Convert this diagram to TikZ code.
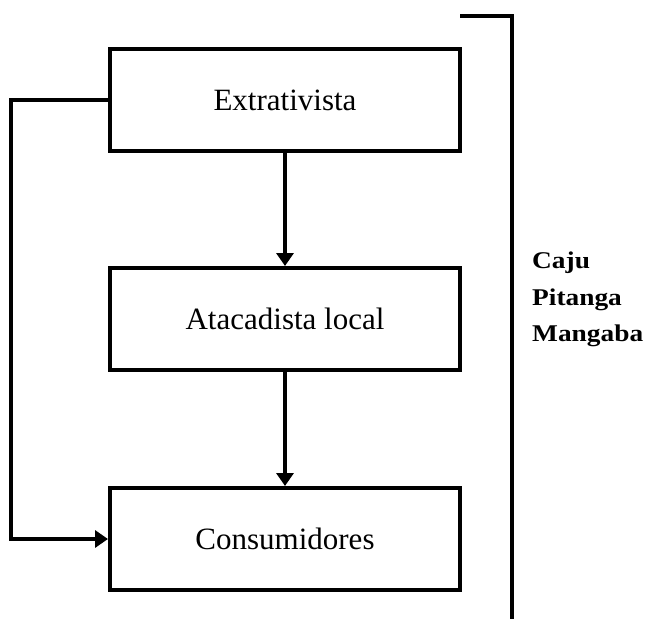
\documentclass[tikz,border=0pt]{standalone}
\usepackage{fontspec}
\usepackage{graphicx}
\setmainfont{Liberation Serif}
\usetikzlibrary{arrows.meta}
\begin{document}
\begin{tikzpicture}[x=1pt,y=-1pt,
  stagebox/.style={draw=black,line width=4pt,minimum width=350pt,minimum height=102pt,inner sep=0pt,font=\fontsize{31}{34}\selectfont},
  flow/.style={line width=4pt,-{Triangle[length=13pt,width=17pt]}},
  fruit/.style={anchor=base west,inner sep=0pt,font=\bfseries\fontsize{24}{26}\selectfont}]
\useasboundingbox (0,0) rectangle (650,619);
\node[stagebox] (ext) at (285,100) {Extrativista};
\node[stagebox] (ata) at (285,319) {Atacadista local};
\node[stagebox] (con) at (285,539) {Consumidores};
\draw[flow] (ext.south) -- (ata.north);
\draw[flow] (ata.south) -- (con.north);
\draw[flow] (ext.west) -- ++(-97,0) |- (con.west);
\coordinate (bt) at (460,16);
\coordinate (bc) at (512,16);
\coordinate (bb) at (512,619);
\draw[line width=4pt] (bt) -- (bc) -- (bb);
\node[fruit] (caju) at (532,268) {\scalebox{1.14}[1]{Caju}};
\node[fruit] (pit) at (532,305) {\scalebox{1.14}[1]{Pitanga}};
\node[fruit] (man) at (532,341) {\scalebox{1.14}[1]{Mangaba}};
\end{tikzpicture}
\end{document}
